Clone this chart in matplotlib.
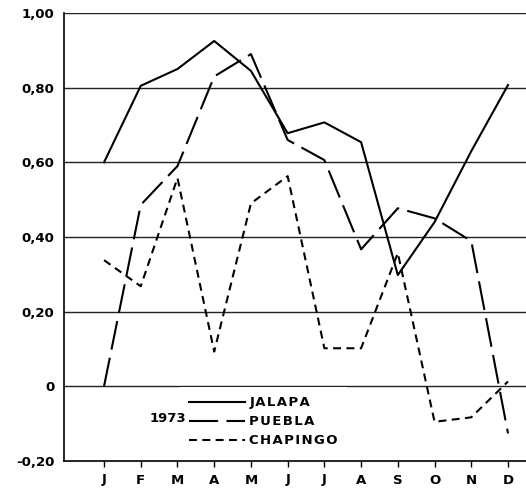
import numpy as np
import matplotlib
matplotlib.use('Agg')
import matplotlib.pyplot as plt

months = ['J', 'F', 'M', 'A', 'M', 'J', 'J', 'A', 'S', 'O', 'N', 'D']
jalapa = [0.60, 0.805, 0.85, 0.925, 0.845, 0.678, 0.707, 0.654, 0.298, 0.44, 0.63, 0.807]
puebla = [0.0, 0.486, 0.59, 0.83, 0.89, 0.66, 0.606, 0.367, 0.477, 0.45, 0.389, -0.126]
chapingo = [0.338, 0.268, 0.558, 0.093, 0.49, 0.563, 0.102, 0.102, 0.357, -0.095, -0.083, 0.013]
yticks = [-0.2, 0, 0.2, 0.4, 0.6, 0.8, 1.0]
ylabels = ['-0,20', '0', '0,20', '0,40', '0,60', '0,80', '1,00']
year = '1973'

plt.rcParams['font.family'] = ['DejaVu Sans']

def spaced(s):
    # wide letter spacing like the original lettering
    return '\u200a'.join(s)

fig = plt.figure(figsize=(5.26, 4.88), dpi=100)
ax = fig.add_axes([64/526, 1 - 461/488, 1 - 64/526, 448/488])

x = np.arange(len(months))
for yv in yticks[1:]:
    ax.axhline(yv, color='#222222', lw=1.0, zorder=1)

ax.plot(x, jalapa, color='black', lw=1.5, label=spaced('JALAPA'), zorder=3)
ax.plot(x, puebla, color='black', lw=1.5, dashes=(14, 4), label=spaced('PUEBLA'), zorder=3)
ax.plot(x, chapingo, color='black', lw=1.5, dashes=(3.8, 2.6), label=spaced('CHAPINGO'), zorder=3)

ax.set_xlim(-1.09, 11.49)
ax.set_ylim(-0.2, 1.0)
ax.set_xticks(x)
ax.set_xticklabels(months)
ax.set_yticks(yticks)
ax.set_yticklabels(ylabels)
for s in ['top', 'right']:
    ax.spines[s].set_visible(False)
ax.spines['left'].set_linewidth(1.2)
ax.spines['bottom'].set_linewidth(1.2)
ax.tick_params(axis='x', direction='out', length=4, width=1, pad=5, labelsize=9.5)
ax.tick_params(axis='y', length=0, pad=7, labelsize=9.5)
for lab in ax.get_xticklabels() + ax.get_yticklabels():
    lab.set_fontweight('bold')

leg = ax.legend(loc='upper left', bbox_to_anchor=(0.251, 0.165), borderaxespad=0,
                frameon=True, fancybox=False, framealpha=1, edgecolor='none',
                facecolor='white', handlelength=4.2, handletextpad=0.35,
                labelspacing=0.45, borderpad=0.7, prop={'size': 9.5, 'weight': 'bold'})
leg.set_zorder(5)
ax.text(0.265, 0.094, year, transform=ax.transAxes, ha='right', va='center',
        fontsize=9.5, fontweight='bold', zorder=6)

fig.savefig('out.png', dpi=100)
